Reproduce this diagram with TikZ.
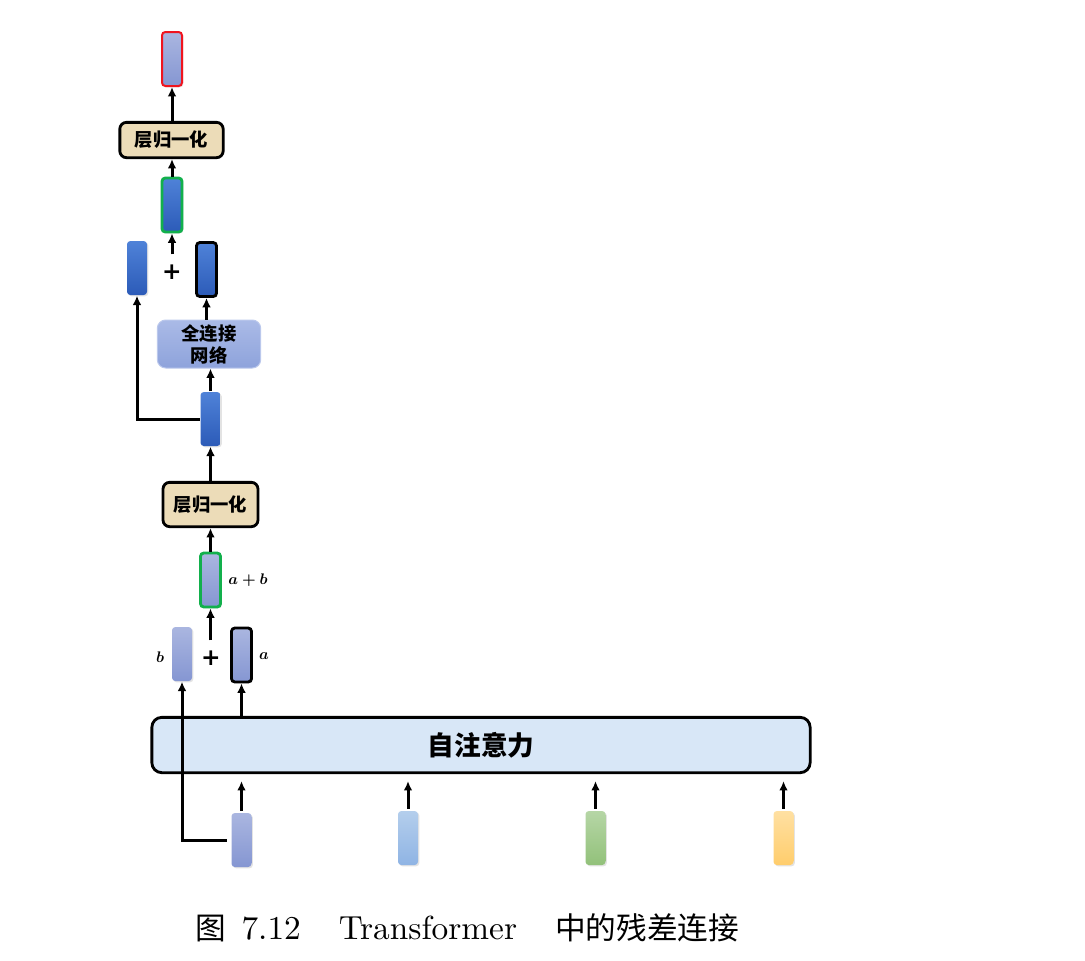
\documentclass[tikz,border=0pt]{standalone}
\usepackage{fontspec}
\usepackage{bm}
\newfontfamily\cjk{Noto Sans CJK SC}
\newfontfamily\plusfont{DejaVu Sans}
\usetikzlibrary{arrows.meta,shadows}
\definecolor{vpt}{HTML}{AAB6E0}
\definecolor{vpb}{HTML}{8596D2}
\definecolor{bvt}{HTML}{4F82D8}
\definecolor{bvb}{HTML}{2C5BB8}
\definecolor{lbt}{HTML}{B4CEEC}
\definecolor{lbb}{HTML}{8FB4E4}
\definecolor{gvt}{HTML}{B6D6A6}
\definecolor{gvb}{HTML}{92C17A}
\definecolor{yvt}{HTML}{FFE0A2}
\definecolor{yvb}{HTML}{FFCD6C}
\definecolor{lnfill}{HTML}{ECDCB8}
\definecolor{attfill}{HTML}{D8E7F7}
\definecolor{fct}{HTML}{AABAE7}
\definecolor{fcb}{HTML}{8EA3DB}
\definecolor{gbord}{HTML}{12B04C}
\definecolor{rbord}{HTML}{F0141E}
\begin{document}
\begin{tikzpicture}[x=0.3pt,y=-0.3pt,
  vecbase/.style={rectangle, rounded corners=1pt, minimum width=6pt, minimum height=16.2pt, inner sep=0pt,
    drop shadow={opacity=0.22, shadow xshift=0.4pt, shadow yshift=-0.4pt}},
  vecp/.style={vecbase, top color=vpt, bottom color=vpb},
  vecb/.style={vecbase, top color=bvt, bottom color=bvb},
  veclb/.style={vecbase, top color=lbt, bottom color=lbb},
  vecg/.style={vecbase, top color=gvt, bottom color=gvb},
  vecy/.style={vecbase, top color=yvt, bottom color=yvb},
  blackb/.style={draw=black, line width=0.85pt},
  greenb/.style={draw=gbord, line width=0.85pt},
  redb/.style={draw=rbord, line width=0.6pt},
  lnbox/.style={rectangle, rounded corners=2pt, draw=black, line width=0.85pt, fill=lnfill,
    minimum width=31pt, minimum height=10.6pt, inner sep=0pt, font=\cjk\bfseries\fontsize{5.5}{6.6}\selectfont},
  fcbox/.style={rectangle, rounded corners=2.5pt, draw=fct!80!white, line width=0.3pt, top color=fct, bottom color=fcb,
    minimum width=31pt, minimum height=14.4pt, inner sep=0pt, align=center, font=\cjk\bfseries\fontsize{5.5}{6.6}\selectfont},
  attbox/.style={rectangle, rounded corners=3pt, draw=black, line width=0.85pt, fill=attfill,
    minimum width=197.5pt, minimum height=16.6pt, inner sep=0pt, font=\cjk\bfseries\fontsize{8}{9}\selectfont},
  plusn/.style={inner sep=0pt, minimum width=4pt, minimum height=9pt, font=\plusfont\bfseries\fontsize{7}{8}\selectfont},
  lbl/.style={inner sep=0pt, scale=0.46, font=\boldmath},
  arr/.style={-{Latex[length=2.8pt,width=2.6pt]}, line width=0.9pt},
  ln/.style={line width=0.9pt}]
\useasboundingbox (0,0) rectangle (1085,960);

% top stack
\node[vecp, redb] (out) at (172,59) {};
\node[lnbox] (lnt) at (171.5,140) {层归一化};
\node[vecb, greenb] (s2) at (172,205) {};
\node[vecb] (rl) at (137,268) {};
\node[plusn] (p2) at (172,272) {+};
\node[vecb, blackb] (ra) at (206.5,269.5) {};
\node[fcbox] (fc) at (209,344) {全连接\\网络};
\node[vecb] (h) at (210.5,419) {};
\node[lnbox, minimum width=28.5pt, minimum height=13.3pt] (lnb) at (210.5,504.5) {层归一化};
\node[vecp, greenb] (s1) at (210.5,580) {};
\node[lbl] (sl) at (248,580) {$a+b$};
\node[vecp] (b) at (182,654) {};
\node[lbl] (bl) at (160,657) {$b$};
\node[plusn] (p1) at (211,658) {+};
\node[vecp, blackb] (a) at (241.5,655) {};
\node[lbl] (al) at (264,656) {$a$};

% attention
\node[attbox] (att) at (481,745) {自注意力};

% inputs
\node[vecp] (v1) at (241.5,840) {};
\node[veclb] (v2) at (408,838) {};
\node[vecg] (v3) at (595.5,838) {};
\node[vecy] (v4) at (783.5,838) {};

% connectors
\foreach \v in {v1,v2,v3,v4}
  \draw[arr, shorten >=2.1pt, shorten <=0.5pt] (\v.north) -- (\v.north |- att.south);
\draw[arr] (att.north -| a.south) -- (a.south);
\draw[arr] ([xshift=-1.2pt]v1.west) -| (b.south);
\draw[arr, shorten <=0.6pt] (p1.north -| s1.south) -- (s1.south);
\draw[arr] (s1.north) -- (s1.north |- lnb.south);
\draw[arr] (lnb.north -| h.south) -- (h.south);
\draw[arr] (h.north) -- (h.north |- fc.south);
\draw[arr] (h.west) -| (rl.south);
\draw[arr] (fc.north -| ra.south) -- (ra.south);
\draw[arr, shorten <=0.6pt] (p2.north -| s2.south) -- (s2.south);
\draw[arr] (s2.north) -- (s2.north |- lnt.south);
\draw[arr] (lnt.north -| out.south) -- (out.south);

% caption
\node[inner sep=0pt, font=\fontsize{10}{12}\selectfont] (cap) at (467.5,928)
  {{\cjk\fontsize{9.2}{12}\selectfont 图}\hspace{4.5pt}7.12\hspace{11.4pt}Transformer\hspace{11.4pt}{\cjk\fontsize{9.2}{12}\selectfont 中的残差连接}};
\end{tikzpicture}
\end{document}
